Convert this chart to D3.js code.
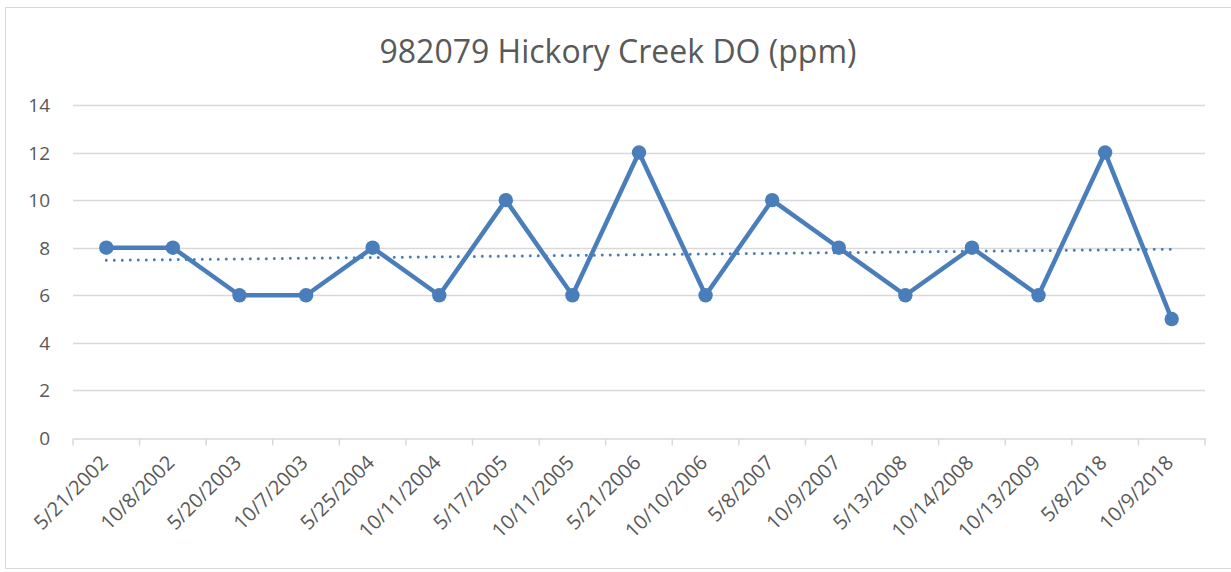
<!DOCTYPE html>
<html>
<head>
<meta charset="utf-8">
<script src="https://cdn.jsdelivr.net/npm/d3@7"></script>
<style>
  html, body { margin: 0; padding: 0; background: #fff; }
  svg { display: block; }
</style>
</head>
<body>
<div id="chart"></div>
<script>
const dates = ['5/21/2002','10/8/2002','5/20/2003','10/7/2003','5/25/2004','10/11/2004','5/17/2005',
  '10/11/2005','5/21/2006','10/10/2006','5/8/2007','10/9/2007','5/13/2008','10/14/2008',
  '10/13/2009','5/8/2018','10/9/2018'];
const doValues = [8, 8, 6, 6, 8, 6, 10, 6, 12, 6, 10, 8, 6, 8, 6, 12, 5];
const yTicks = [0, 2, 4, 6, 8, 10, 12, 14];
const title = '982079 Hickory Creek DO (ppm)';

const W = 1231, H = 572;
const font = '"Open Sans", "Liberation Sans", sans-serif';
const textCol = '#595959';
const lineCol = '#4a7ebb';

const svg = d3.select('#chart').append('svg').attr('width', W).attr('height', H);

// chart frame
svg.append('rect').attr('x', 5.5).attr('y', 7.5).attr('width', W).attr('height', 561)
  .attr('fill', '#fff').attr('stroke', '#d9d9d9').attr('stroke-width', 1);

const plot = { left: 73, right: 1205, top: 105, bottom: 438 };

const x = d3.scaleBand().domain(dates).range([plot.left, plot.right]);
const y = d3.scaleLinear().domain([0, 14]).range([plot.bottom, plot.top]);
const cx = d => x(d) + x.bandwidth() / 2;

svg.append('text').attr('x', 618).attr('y', 63)
  .attr('text-anchor', 'middle').attr('font-family', font).attr('font-size', '32px')
  .attr('fill', textCol).text(title);

// gridlines
svg.append('g').selectAll('line').data(yTicks.filter(t => t > 0)).join('line')
  .attr('x1', plot.left).attr('x2', plot.right)
  .attr('y1', d => Math.round(y(d)) + 0.5).attr('y2', d => Math.round(y(d)) + 0.5)
  .attr('stroke', '#d9d9d9').attr('stroke-width', 1.5);

// y labels
svg.append('g').selectAll('text').data(yTicks).join('text')
  .attr('x', 50).attr('y', d => y(d) + 7)
  .attr('text-anchor', 'end').attr('font-family', font).attr('font-size', '19px')
  .attr('fill', textCol).text(d => d);

// x axis
const xAxis = d3.axisBottom(x).tickSize(0).tickFormat('');
const gx = svg.append('g').attr('transform', `translate(0,${Math.round(plot.bottom) + 0.5})`).call(xAxis);
gx.select('.domain').attr('stroke', '#d9d9d9').attr('stroke-width', 1.5);
gx.selectAll('.tick').remove();
const bounds = dates.map(d => x(d)).concat([plot.right]);
gx.selectAll('line.sep').data(bounds).join('line').attr('class', 'sep')
  .attr('x1', d => d).attr('x2', d => d).attr('y1', 0).attr('y2', 7)
  .attr('stroke', '#d9d9d9').attr('stroke-width', 1.5);

svg.append('g').selectAll('text').data(dates).join('text')
  .attr('transform', d => `translate(${cx(d) + 3},${plot.bottom + 26}) rotate(-45)`)
  .attr('text-anchor', 'end').attr('font-family', font).attr('font-size', '20px')
  .attr('fill', textCol).text(d => d);

// linear trendline
const n = doValues.length;
const xm = d3.mean(doValues, (v, i) => i);
const ym = d3.mean(doValues);
const slope = d3.sum(doValues, (v, i) => (i - xm) * (v - ym)) / d3.sum(doValues, (v, i) => (i - xm) ** 2);
const icpt = ym - slope * xm;
svg.append('line')
  .attr('x1', cx(dates[0])).attr('x2', cx(dates[n - 1]))
  .attr('y1', y(icpt)).attr('y2', y(icpt + slope * (n - 1)))
  .attr('stroke', lineCol).attr('stroke-width', 3).attr('stroke-linecap', 'round')
  .attr('stroke-dasharray', '0 8');

// data line
const line = d3.line().x((v, i) => cx(dates[i])).y(v => y(v));
svg.append('path').datum(doValues).attr('d', line)
  .attr('fill', 'none').attr('stroke', lineCol).attr('stroke-width', 4.5)
  .attr('stroke-linejoin', 'round');

svg.append('g').selectAll('circle').data(doValues).join('circle')
  .attr('cx', (v, i) => cx(dates[i])).attr('cy', v => y(v)).attr('r', 7.2)
  .attr('fill', lineCol);
</script>
</body>
</html>
